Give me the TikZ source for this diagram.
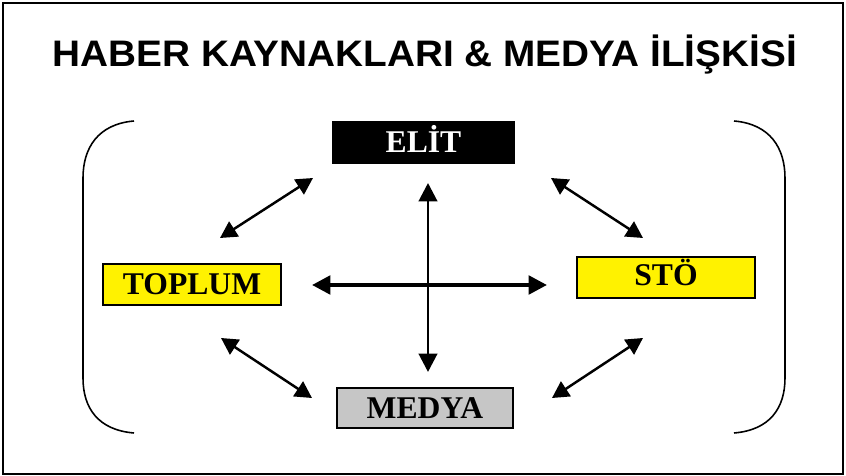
\documentclass[tikz,border=0pt]{standalone}
\usepackage{fontspec}
\setmainfont{Liberation Serif}
\newfontfamily\titlefont{Liberation Sans}
\usepackage{tikz}
\usetikzlibrary{
    arrows.meta
}

\begin{document}
\begin{tikzpicture}[x=0.02cm,y=-0.02cm,<->,>={Triangle[length=10.5pt,width=10.5pt]},line width=1.7pt]
    \tikzstyle{box}=[draw=black, line width=0.6pt, minimum width=3.56cm, minimum height=0.82cm, inner sep=0pt, text height=11.9pt, text depth=0pt, font=\fontsize{18}{20}\selectfont\bfseries]
    \tikzstyle{link}=[line width=1.4pt, >={Triangle[length=9.5pt,width=10pt]}]
    \useasboundingbox (0,0) rectangle (846,476);
    \draw [-, line width=0.9pt] (3,3) rectangle (843,474);
    \node [anchor=base, font=\titlefont\fontsize{21}{24}\selectfont\bfseries] (title) at (425,67) {\scalebox{1.05}[1]{HABER KAYNAKLARI \& MEDYA İLİŞKİSİ}};
    % kutular
    \node [box, fill=black, text=white, minimum width=3.62cm] (elit) at (423.5,142.5) {ELİT};
    \node [box, fill=yellow] (toplum) at (192,284.5) {TOPLUM};
    \node [box, fill=yellow, text depth=2.5pt] (sto) at (666,277.5) {STÖ};
    \node [box, fill=gray!45, minimum width=3.52cm, minimum height=0.8cm] (medya) at (425,408) {MEDYA};
    % ok uclari
    \coordinate (v1) at (428,183);
    \coordinate (v2) at (428,372);
    \coordinate (h1) at (312,285);
    \coordinate (h2) at (547,285);
    \coordinate (ul1) at (220,238);
    \coordinate (ul2) at (313,178);
    \coordinate (ur1) at (551,178);
    \coordinate (ur2) at (643,238);
    \coordinate (ll1) at (221,338);
    \coordinate (ll2) at (312,398);
    \coordinate (lr1) at (552,398);
    \coordinate (lr2) at (643,338);
    \draw (v1) -- (v2);
    \draw [line width=2.3pt] (h1) -- (h2);
    \draw [link] (ul1) -- (ul2);
    \draw [link] (ur1) -- (ur2);
    \draw [link] (ll1) -- (ll2);
    \draw [link] (lr1) -- (lr2);
    % parantezler
    \draw [-, line width=0.9pt] (134,121) .. controls (98,124) and (83,148) .. (83,178) -- (83,378) .. controls (83,408) and (98,430) .. (134,433);
    \draw [-, line width=0.9pt] (734,121) .. controls (770,124) and (785,148) .. (785,178) -- (785,378) .. controls (785,408) and (770,430) .. (734,433);
\end{tikzpicture}
\end{document}
